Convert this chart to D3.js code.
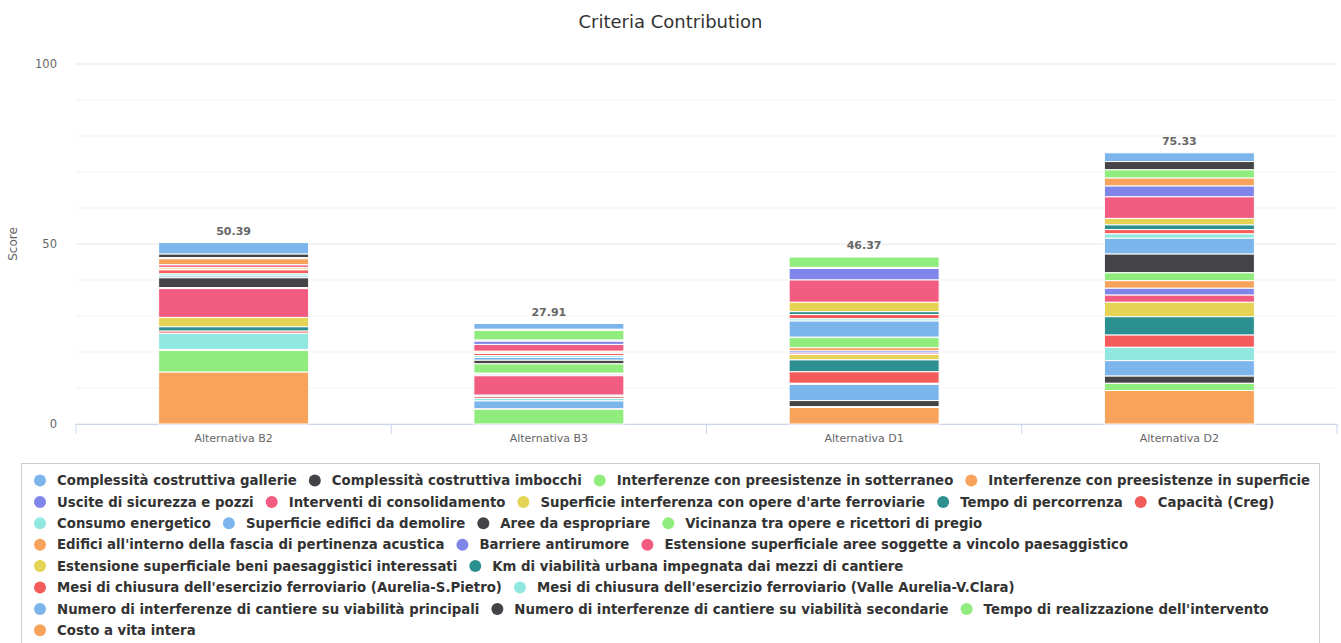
<!DOCTYPE html>
<html>
<head>
<meta charset="utf-8">
<script src="https://cdn.jsdelivr.net/npm/d3@7"></script>
<style>
  body { margin: 0; background: #fff; }
  svg { display: block; font-family: "DejaVu Sans", sans-serif; }
</style>
</head>
<body>
<div id="chart"></div>
<script>
// categories on the x axis
const categories = ["Alternativa B2", "Alternativa B3", "Alternativa D1", "Alternativa D2"];

// criteria, in legend order (first one sits on top of the stack)
const criteria = [
  "Complessità costruttiva gallerie",
  "Complessità costruttiva imbocchi",
  "Interferenze con preesistenze in sotterraneo",
  "Interferenze con preesistenze in superficie",
  "Uscite di sicurezza e pozzi",
  "Interventi di consolidamento",
  "Superficie interferenza con opere d'arte ferroviarie",
  "Tempo di percorrenza",
  "Capacità (Creg)",
  "Consumo energetico",
  "Superficie edifici da demolire",
  "Aree da espropriare",
  "Vicinanza tra opere e ricettori di pregio",
  "Edifici all'interno della fascia di pertinenza acustica",
  "Barriere antirumore",
  "Estensione superficiale aree soggette a vincolo paesaggistico",
  "Estensione superficiale beni paesaggistici interessati",
  "Km di viabilità urbana impegnata dai mezzi di cantiere",
  "Mesi di chiusura dell'esercizio ferroviario (Aurelia-S.Pietro)",
  "Mesi di chiusura dell'esercizio ferroviario (Valle Aurelia-V.Clara)",
  "Numero di interferenze di cantiere su viabilità principali",
  "Numero di interferenze di cantiere su viabilità secondarie",
  "Tempo di realizzazione dell'intervento",
  "Costo a vita intera"
];

const palette = ["#7cb5ec", "#434348", "#90ed7d", "#f7a35c", "#8085e9",
                 "#f15c80", "#e4d354", "#2b908f", "#f45b5b", "#91e8e1"];

// contribution of each criterion (same order as criteria)
const scoreB2 = [3.19, 1.0, 0.3, 1.6, 0.1, 0.7, 0.5, 0.2, 1.1, 0.6, 0.5, 2.7,
                 0.1, 0.1, 0.1, 8.0, 2.6, 1.2, 0.6, 4.5, 0.2, 0.1, 6.0, 14.4];
const scoreB3 = [1.61, 0.3, 2.7, 0.3, 0.9, 1.9, 0.4, 0.2, 0.6, 0.5, 0.8, 1.0,
                 2.6, 0.3, 0.4, 5.4, 0.2, 0.2, 0.5, 0.7, 2.2, 0.1, 4.1, 0.0];
const scoreD1 = [0.0, 0.0, 2.87, 0.3, 3.2, 6.2, 2.6, 0.8, 1.2, 0.6, 4.5, 0.1,
                 2.8, 0.9, 0.6, 0.4, 1.5, 3.3, 3.2, 0.3, 4.5, 1.7, 0.2, 4.6];
const scoreD2 = [2.43, 2.3, 2.3, 2.2, 3.0, 6.0, 1.8, 1.3, 1.2, 1.2, 4.4, 5.2,
                 2.2, 2.1, 1.9, 2.0, 4.0, 5.1, 3.4, 3.7, 4.3, 2.0, 2.0, 9.3];

const yTicks = [0, 50, 100];

const scores = [scoreB2, scoreB3, scoreD1, scoreD2];

const width = 1341, height = 643;
const margin = {top: 64, right: 4, bottom: 219, left: 76};

const table = categories.map((c, i) => {
  const row = {category: c};
  criteria.forEach((k, j) => row[k] = scores[i][j]);
  return row;
});

// first series on top -> stack in reverse
const series = d3.stack()
  .keys(criteria)
  .order(d3.stackOrderReverse)(table);

const colorOf = key => palette[criteria.indexOf(key) % palette.length];

const svg = d3.select("#chart").append("svg")
  .attr("width", width)
  .attr("height", height);

const x = d3.scaleBand()
  .domain(categories)
  .range([margin.left, width - margin.right]);

const y = d3.scaleLinear()
  .domain([0, 100])
  .range([height - margin.bottom, margin.top]);

// title
svg.append("text")
  .attr("x", width / 2)
  .attr("y", 28)
  .attr("text-anchor", "middle")
  .attr("font-size", 18)
  .attr("fill", "#333")
  .text("Criteria Contribution");

// gridlines (minor every 10, major on labelled ticks)
svg.append("g")
  .selectAll("line")
  .data(y.ticks(10))
  .join("line")
  .attr("x1", margin.left)
  .attr("x2", width - margin.right)
  .attr("y1", d => y(d))
  .attr("y2", d => y(d))
  .attr("stroke", d => yTicks.includes(d) ? "#e6e6e6" : "#f3f3f3")
  .attr("stroke-width", 1);

// y axis labels
const yAxis = svg.append("g")
  .attr("transform", `translate(${margin.left - 19},0)`)
  .call(d3.axisLeft(y).tickValues(yTicks).tickSize(0).tickPadding(0));
yAxis.select(".domain").remove();
yAxis.selectAll("text")
  .attr("font-family", "DejaVu Sans, sans-serif")
  .attr("font-size", 11.5)
  .attr("fill", "#666");

svg.append("text")
  .attr("transform", `translate(17,${(y(0) + y(100)) / 2}) rotate(-90)`)
  .attr("text-anchor", "middle")
  .attr("font-size", 12)
  .attr("fill", "#666")
  .text("Score");

// x axis
const xAxis = svg.append("g")
  .attr("transform", `translate(0,${y(0)})`)
  .call(d3.axisBottom(x).tickSize(0).tickPadding(10));
xAxis.select(".domain").attr("stroke", "#ccd6eb");
xAxis.selectAll("text")
  .attr("font-family", "DejaVu Sans, sans-serif")
  .attr("font-size", 11)
  .attr("fill", "#666");

// tick marks between categories
const bounds = categories.map(c => x(c)).concat([x.range()[1]]);
xAxis.selectAll(".between")
  .data(bounds)
  .join("line")
  .attr("class", "between")
  .attr("x1", d => d)
  .attr("x2", d => d)
  .attr("y1", 0)
  .attr("y2", 10)
  .attr("stroke", "#ccd6eb");

// stacked bars
const barWidth = 150;
const barX = c => x(c) + (x.bandwidth() - barWidth) / 2;

svg.append("g")
  .selectAll("g")
  .data(series)
  .join("g")
  .attr("fill", d => colorOf(d.key))
  .selectAll("rect")
  .data(d => d)
  .join("rect")
  .attr("x", d => barX(d.data.category))
  .attr("y", d => y(d[1]))
  .attr("width", barWidth)
  .attr("height", d => Math.max(0, y(d[0]) - y(d[1])))
  .attr("stroke", "#fff")
  .attr("stroke-width", 1);

// stack totals
svg.append("g")
  .selectAll("text")
  .data(categories)
  .join("text")
  .attr("x", c => x(c) + x.bandwidth() / 2)
  .attr("y", (c, i) => y(d3.sum(scores[i])) - 8)
  .attr("text-anchor", "middle")
  .attr("font-size", 11)
  .attr("font-weight", "bold")
  .attr("fill", "#666")
  .text((c, i) => d3.sum(scores[i]).toFixed(2));

// legend
const legend = svg.append("g");
legend.append("rect")
  .attr("x", 21.5)
  .attr("y", 463.5)
  .attr("width", 1298)
  .attr("height", 200)
  .attr("fill", "none")
  .attr("stroke", "#ccc");

const startX = 34, maxRight = 1314, rowStep = 21.4, firstRow = 480.5;
let cursor = startX, row = 0;
criteria.forEach((name, j) => {
  const item = legend.append("g");
  const label = item.append("text")
    .attr("x", 23)
    .attr("dy", "0.35em")
    .attr("font-size", 13.3)
    .attr("font-weight", "bold")
    .attr("fill", "#333")
    .text(name);
  const w = label.node().getComputedTextLength();
  if (cursor > startX && cursor + 23 + w > maxRight) {
    cursor = startX;
    row++;
  }
  item.attr("transform", `translate(${cursor},${firstRow + row * rowStep})`);
  item.append("circle")
    .attr("cx", 6)
    .attr("r", 6)
    .attr("fill", palette[j % palette.length]);
  cursor += 23 + w + 12;
});
</script>
</body>
</html>
